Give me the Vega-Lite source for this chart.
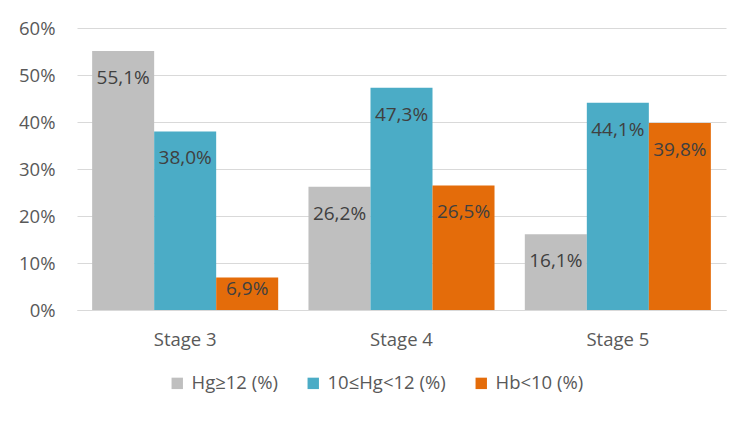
{
  "$schema": "https://vega.github.io/schema/vega-lite/v6.json",
  "width": 649,
  "height": 282,
  "autosize": {"type": "none"},
  "padding": {"left": 77, "top": 28, "right": 30, "bottom": 117},
  "background": "white",
  "config": {
    "locale": {"number": {"decimal": ",", "thousands": ".", "grouping": [3], "currency": ["", " €"]}},
    "view": {"stroke": null},
    "font": "Open Sans"
  },
  "data": {
    "values": [
      {"stage": "Stage 3", "series": "Hg≥12 (%)", "value": 0.551},
      {"stage": "Stage 3", "series": "10≤Hg<12 (%)", "value": 0.380},
      {"stage": "Stage 3", "series": "Hb<10 (%)", "value": 0.069},
      {"stage": "Stage 4", "series": "Hg≥12 (%)", "value": 0.262},
      {"stage": "Stage 4", "series": "10≤Hg<12 (%)", "value": 0.473},
      {"stage": "Stage 4", "series": "Hb<10 (%)", "value": 0.265},
      {"stage": "Stage 5", "series": "Hg≥12 (%)", "value": 0.161},
      {"stage": "Stage 5", "series": "10≤Hg<12 (%)", "value": 0.441},
      {"stage": "Stage 5", "series": "Hb<10 (%)", "value": 0.398}
    ]
  },
  "encoding": {
    "x": {
      "field": "stage", "type": "nominal", "title": null,
      "scale": {"paddingInner": 0.14, "paddingOuter": 0.07},
      "axis": {"labelAngle": 0, "labelFontSize": 18.5, "labelColor": "#595959", "ticks": false,
               "domainColor": "#D9D9D9", "domainWidth": 1, "labelPadding": 20}
    },
    "xOffset": {"field": "series", "type": "nominal", "sort": ["Hg≥12 (%)", "10≤Hg<12 (%)", "Hb<10 (%)"], "scale": {"paddingInner": 0, "paddingOuter": 0}},
    "y": {
      "field": "value", "type": "quantitative", "title": null,
      "scale": {"domain": [0, 0.6]},
      "axis": {"format": ".0%", "values": [0, 0.1, 0.2, 0.3, 0.4, 0.5, 0.6], "labelOverlap": false, "labelFontSize": 18.5, "labelColor": "#595959",
               "domain": false, "ticks": false, "gridColor": "#D9D9D9", "gridWidth": 1, "labelPadding": 22}
    }
  },
  "layer": [
    {
      "mark": {"type": "bar"},
      "encoding": {
        "color": {
          "field": "series", "type": "nominal",
          "scale": {"domain": ["Hg≥12 (%)", "10≤Hg<12 (%)", "Hb<10 (%)"], "range": ["#BFBFBF", "#4BACC6", "#E46C0A"]},
          "legend": {"orient": "none", "legendX": 91, "legendY": 346, "direction": "horizontal", "title": null, "symbolType": "square",
                     "symbolSize": 130, "symbolStrokeWidth": 0, "labelFontSize": 18.5, "labelColor": "#595959",
                     "columnPadding": 26, "labelOffset": 5}
        }
      }
    },
    {
      "transform": [{"filter": "datum.value >= 0.1"}],
      "mark": {"type": "text", "baseline": "middle", "dy": 27, "fontSize": 19, "color": "#404040"},
      "encoding": {
        "text": {"field": "value", "type": "quantitative", "format": ".1%"}
      }
    },
    {
      "transform": [{"filter": "datum.value < 0.1"}],
      "mark": {"type": "text", "baseline": "middle", "dy": 11, "fontSize": 19, "color": "#404040"},
      "encoding": {
        "text": {"field": "value", "type": "quantitative", "format": ".1%"}
      }
    }
  ]
}
